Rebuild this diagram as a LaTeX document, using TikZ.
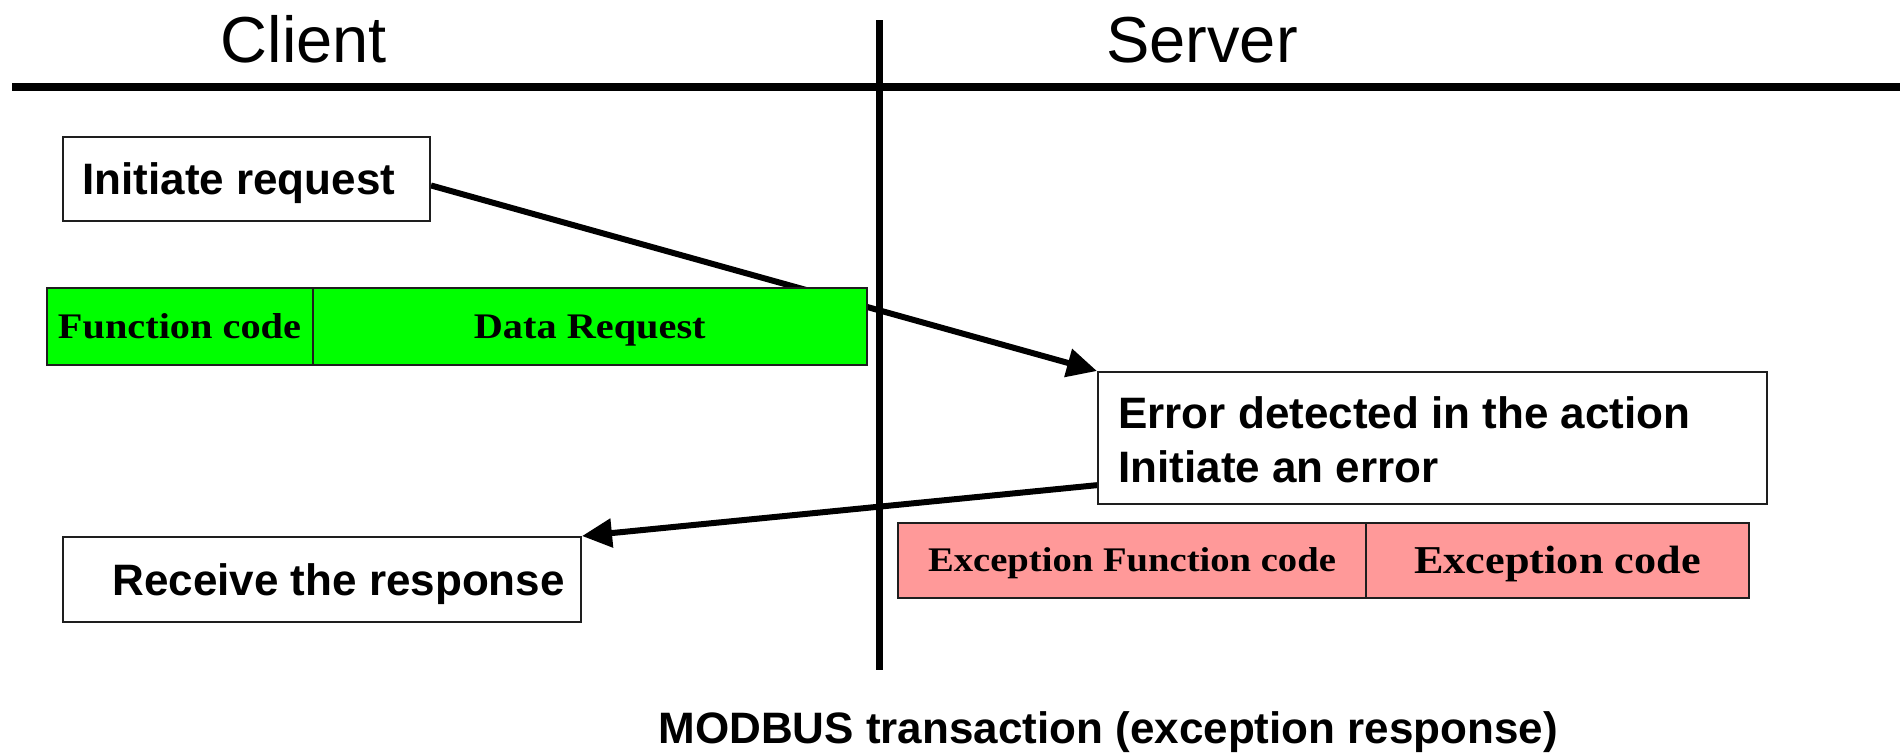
\documentclass[tikz,border=0pt]{standalone}
\usepackage{fontspec}
\setmainfont{Liberation Sans}
\newfontfamily\barfont{Liberation Serif}[FakeStretch=1.12]
\usetikzlibrary{arrows.meta,backgrounds}

\definecolor{reqgreen}{RGB}{0,255,0}
\definecolor{excpink}{RGB}{255,153,153}
\definecolor{edge}{RGB}{30,30,30}

\tikzset{
  axis/.style={line width=4pt, line cap=butt},
  lane/.style={line width=3.5pt, line cap=butt},
  msg/.style={line width=3pt, -{Triangle[length=15pt,width=14pt]}},
  box/.style={draw=edge, line width=1pt, fill=white, inner sep=0pt},
  cell/.style={draw=edge, line width=1pt, inner sep=0pt, text depth=0pt},
  lbl/.style={inner sep=0pt},
  heading/.style={lbl, anchor=base, font=\fontsize{32.5pt}{36pt}\selectfont},
  boxtext/.style={lbl, anchor=base west, font=\bfseries\fontsize{22pt}{26pt}\selectfont},
}

\begin{document}
\begin{tikzpicture}[x=0.5pt, y=-0.5pt]
  \useasboundingbox (0,0) rectangle (1903,752);
  \begin{pgfonlayer}{background}
    \fill[white] (0,0) rectangle (1903,752);
  \end{pgfonlayer}

  % swim-lane headings and separators
  \node[heading] (client) at (304,62) {Client};
  \node[heading] (server) at (1202,62) {Server};
  \coordinate (hl) at (12,87);
  \coordinate (hr) at (1900,87);
  \coordinate (vt) at (879,20);
  \coordinate (vb) at (879,670);
  \draw[axis] (hl) -- (hr);
  \draw[lane] (vt) -- (vb);

  % client side
  \node[box, minimum width=183.5pt, minimum height=42pt] (init) at (246.5,179) {};
  \node[boxtext] (inittext) at (82,194) {Initiate request};

  \node[cell, fill=reqgreen, minimum width=133pt, minimum height=38.5pt,
        text height=11.9pt, font=\barfont\bfseries\fontsize{18pt}{20pt}\selectfont]
        (fc) at (179.5,326.5) {Function code};
  \node[cell, fill=reqgreen, minimum width=277.25pt, minimum height=38.5pt,
        text height=11.9pt, font=\barfont\bfseries\fontsize{18pt}{20pt}\selectfont]
        (dr) at (589.75,326.5) {Data Request};

  \node[box, minimum width=259pt, minimum height=42.5pt] (recv) at (322,579.5) {};
  \node[boxtext] (recvtext) at (112,595) {Receive the response};

  % server side
  \node[box, minimum width=334.5pt, minimum height=66pt] (err) at (1432.5,438) {};
  \node[boxtext] (errtext1) at (1118,428) {Error detected in the action};
  \node[boxtext] (errtext2) at (1118,482) {Initiate an error};

  \node[cell, fill=excpink, minimum width=234pt, minimum height=37.5pt,
        text height=11.4pt, font=\barfont\bfseries\fontsize{17.25pt}{20pt}\selectfont]
        (ef) at (1132,560.5) {Exception Function code};
  \node[cell, fill=excpink, minimum width=191.5pt, minimum height=37.5pt,
        text height=13.1pt, font=\barfont\bfseries\fontsize{19.75pt}{22pt}\selectfont]
        (ec) at (1557.5,560.5) {Exception code};

  % messages, kept behind the frame bars
  \begin{pgfonlayer}{background}
    \draw[msg] (init.-2.5) -- (err.north west);
    \draw[msg] (err.188) -- (recv.north east);
  \end{pgfonlayer}

  % caption
  \node[boxtext] (caption) at (658,743) {MODBUS transaction (exception response)};
\end{tikzpicture}
\end{document}
